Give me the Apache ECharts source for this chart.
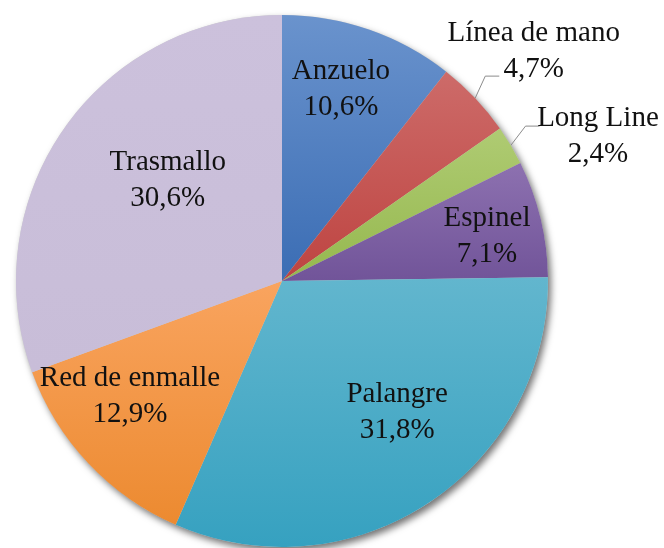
<!DOCTYPE html>
<html>
<head>
<meta charset="utf-8">
<script src="https://cdn.jsdelivr.net/npm/echarts@6/dist/echarts.min.js"></script>
<style>
html,body{margin:0;padding:0;background:#fff;}
#main{width:664px;height:548px;}
</style>
</head>
<body>
<div id="main"></div>
<script>
// ---- data ----
const categories = ['Anzuelo', 'Línea de mano', 'Long Line', 'Espinel', 'Palangre', 'Red de enmalle', 'Trasmallo'];
const shares = [10.6, 4.7, 2.4, 7.1, 31.8, 12.9, 30.6];

// ---- styling / layout (not data) ----
const sliceColors = [
  ['#6A93CD', '#3B6DB4'],
  ['#CD6B69', '#BE4441'],
  ['#AFCB73', '#95B84E'],
  ['#8D71B0', '#715499'],
  ['#62B6CE', '#36A1C0'],
  ['#F9A45F', '#EC8A30'],
  ['#CCC1DC', '#C8BDD8']
];
const CX = 282, CY = 281, R = 266;
// label placement: [radius factor, angle offset (deg) from slice mid-angle]
const labelPolar = [
  [0.755, -2.0],
  [1.28, 1.1],
  [1.307, 6.0],
  [0.789, 1.2],
  [0.658, -7.5],
  [0.717, 6.1],
  [0.573, 6.5]
];
const outsideIdx = [1, 2];

const total = shares.reduce((a, b) => a + b, 0);
const midAngles = [];
let acc = 0;
shares.forEach(v => { midAngles.push((acc + v / 2) / total * 360); acc += v; });

function polar(angDeg, rad) {
  const a = angDeg * Math.PI / 180;
  return [CX + rad * Math.sin(a), CY - rad * Math.cos(a)];
}

const data = categories.map((name, i) => {
  const outside = outsideIdx.indexOf(i) >= 0;
  return {
    name: name,
    value: shares[i],
    itemStyle: {
      color: new echarts.graphic.LinearGradient(0, 0, 0, 1, [
        { offset: 0, color: sliceColors[i][0] },
        { offset: 1, color: sliceColors[i][1] }
      ])
    },
    label: { position: outside ? 'outside' : 'inside' },
    labelLine: { show: outside }
  };
});

const chart = echarts.init(document.getElementById('main'), null, { renderer: 'canvas' });
chart.setOption({
  backgroundColor: '#ffffff',
  animation: false,
  series: [
    {
      type: 'pie',
      silent: true,
      center: [CX, CY],
      radius: R,
      z: 1,
      label: { show: false },
      labelLine: { show: false },
      emphasis: { disabled: true },
      itemStyle: {
        color: '#cccccc',
        shadowColor: 'rgba(0,0,0,0.55)',
        shadowBlur: 7,
        shadowOffsetX: 3,
        shadowOffsetY: 4
      },
      data: [{ name: '', value: total }]
    },
    {
      type: 'pie',
      center: [CX, CY],
      radius: R,
      z: 2,
      startAngle: 90,
      clockwise: true,
      emphasis: { disabled: true },
      itemStyle: { borderWidth: 0 },
      label: {
        show: true,
        fontFamily: '"Liberation Serif", "Times New Roman", serif',
        fontSize: 29,
        lineHeight: 36,
        color: '#111111',
        align: 'center',
        overflow: 'none',
        alignTo: 'none',
        edgeDistance: 0,
        formatter: p => p.name + '\n' + p.value.toFixed(1).replace('.', ',') + '%'
      },
      labelLine: {
        lineStyle: { color: '#8c8c8c', width: 1 }
      },
      labelLayout: function (params) {
        const i = params.dataIndex;
        const lp = labelPolar[i];
        const pos = polar(midAngles[i] + lp[1], R * lp[0]);
        const res = { x: pos[0], y: pos[1], align: 'center', verticalAlign: 'middle', width: 220 };
        if (outsideIdx.indexOf(i) >= 0) {
          const s = polar(midAngles[i], R);
          const e = polar(midAngles[i] - 1.8, R * 1.085);
          res.labelLinePoints = [s, e, [e[0] + 14, e[1]]];
        }
        return res;
      },
      data: data
    }
  ]
});
</script>
</body>
</html>
